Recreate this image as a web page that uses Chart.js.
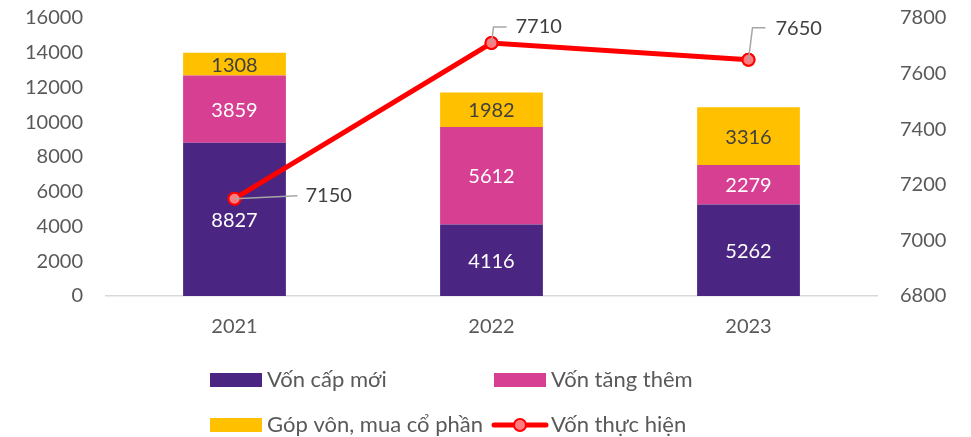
<!DOCTYPE html>
<html>
<head>
<meta charset="utf-8">
<script src="https://cdn.jsdelivr.net/npm/chart.js@4.4.1/dist/chart.umd.min.js"></script>
<style>
  html, body { margin: 0; padding: 0; background: #fff; }
  #wrap { width: 971px; height: 437px; }
</style>
</head>
<body>
<div id="wrap"><canvas id="fdi" width="971" height="437"></canvas></div>
<script>
let years = ['2021', '2022', '2023'];
let vonCapMoi = [8827, 4116, 5262];
let vonTangThem = [3859, 5612, 2279];
let gopVon = [1308, 1982, 3316];
let vonThucHien = [7150, 7710, 7650];
let legendNames = ['Vốn cấp mới', 'Vốn tăng thêm', 'Góp vôn, mua cổ phần', 'Vốn thực hiện'];

const FONT = 'Lato, "Open Sans", sans-serif';

// labels inside bar segments
const barLabels = {
    id: 'barLabels',
    afterDatasetsDraw(chart) {
        const ctx = chart.ctx;
        ctx.save();
        ctx.font = '20px ' + FONT;
        ctx.textAlign = 'center';
        ctx.textBaseline = 'middle';
        chart.data.datasets.forEach((ds, i) => {
            if (ds.type !== 'bar') return;
            chart.getDatasetMeta(i).data.forEach((bar, j) => {
                const mid = (bar.y + bar.base) / 2;
                ctx.fillStyle = ds.labelColor;
                ctx.fillText(ds.data[j], bar.x, mid + 1);
            });
        });
        ctx.restore();
    }
};

// labels of the line with small leader lines
const lineLabels = {
    id: 'lineLabels',
    afterDraw(chart) {
        const ctx = chart.ctx;
        const idx = chart.data.datasets.findIndex(d => d.type === 'line');
        const ds = chart.data.datasets[idx];
        const offs = [
            { ex: 0, ey: 0, lx: 63, ly: -3, tx: 71, ty: -3 },
            { ex: 2, ey: -16, lx: 15, ly: -16, tx: 24, ty: -16 },
            { ex: 4, ey: -32, lx: 17, ly: -32, tx: 27, ty: -31 }
        ];
        const leader = (pt, o) => {
            ctx.strokeStyle = '#A6A6A6';
            ctx.lineWidth = 1.5;
            ctx.beginPath();
            ctx.moveTo(pt.x, pt.y);
            if (o.ex || o.ey) ctx.lineTo(pt.x + o.ex, pt.y + o.ey);
            ctx.lineTo(pt.x + o.lx, pt.y + o.ly);
            ctx.stroke();
        };
        ctx.save();
        chart.getDatasetMeta(idx).data.forEach((pt, j) => {
            const o = offs[j];
            // point on top, leader drawn over it like in excel
            ctx.beginPath();
            ctx.arc(pt.x, pt.y, 6, 0, Math.PI * 2);
            ctx.fillStyle = '#FF7C80';
            ctx.fill();
            ctx.lineWidth = 2;
            ctx.strokeStyle = '#FF0000';
            ctx.stroke();
            leader(pt, o);
            ctx.font = '20px ' + FONT;
            ctx.fillStyle = '#404040';
            ctx.textAlign = 'left';
            ctx.textBaseline = 'middle';
            ctx.fillText(ds.data[j], pt.x + o.tx, pt.y + o.ty);
        });
        ctx.restore();
    }
};

// legend in two columns under the chart
const gridLegend = {
    id: 'gridLegend',
    afterDraw(chart) {
        const ctx = chart.ctx;
        const cols = [210, 494];
        const rows = [380, 425];
        const order = [1, 2, 3, 0];
        ctx.save();
        ctx.font = '22px ' + FONT;
        ctx.textBaseline = 'middle';
        ctx.textAlign = 'left';
        order.forEach((di, k) => {
            const ds = chart.data.datasets[di];
            const x = cols[k % 2], y = rows[Math.floor(k / 2)];
            if (ds.type === 'line') {
                ctx.strokeStyle = '#FF0000';
                ctx.lineWidth = 5;
                ctx.lineCap = 'round';
                ctx.beginPath();
                ctx.moveTo(x, y);
                ctx.lineTo(x + 52, y);
                ctx.stroke();
                ctx.beginPath();
                ctx.arc(x + 26, y, 6, 0, Math.PI * 2);
                ctx.fillStyle = '#FF7C80';
                ctx.fill();
                ctx.lineWidth = 2;
                ctx.stroke();
            } else {
                ctx.fillStyle = ds.backgroundColor;
                ctx.fillRect(x, y - 7, 52, 14);
            }
            ctx.fillStyle = '#595959';
            ctx.fillText(ds.label, x + 57, y);
        });
        ctx.restore();
    }
};

const plain = v => String(v);
const fitY = w => s => { s.width = w; s.paddingTop = 0; s.paddingBottom = 0; };

new Chart(document.getElementById('fdi'), {
    data: {
        labels: years,
        datasets: [
            {
                type: 'line',
                label: legendNames[3],
                data: vonThucHien,
                yAxisID: 'y2',
                borderColor: '#FF0000',
                borderWidth: 5,
                pointRadius: 6,
                pointBackgroundColor: '#FF7C80',
                pointBorderColor: '#FF0000',
                pointBorderWidth: 2,
                tension: 0,
                order: 0
            },
            {
                type: 'bar',
                label: legendNames[0],
                data: vonCapMoi,
                backgroundColor: '#4A2682',
                labelColor: '#FFFFFF',
                stack: 's',
                order: 1
            },
            {
                type: 'bar',
                label: legendNames[1],
                data: vonTangThem,
                backgroundColor: '#D63F92',
                labelColor: '#FFFFFF',
                stack: 's',
                order: 1
            },
            {
                type: 'bar',
                label: legendNames[2],
                data: gopVon,
                backgroundColor: '#FFC000',
                labelColor: '#404040',
                stack: 's',
                order: 1
            }
        ]
    },
    options: {
        responsive: false,
        animation: false,
        layout: { padding: { top: 18, left: 0, right: 0, bottom: 0 } },
        datasets: { bar: { barPercentage: 0.4, categoryPercentage: 1 } },
        plugins: {
            legend: { display: false },
            tooltip: { enabled: false }
        },
        scales: {
            x: {
                stacked: true,
                grid: { display: false, drawTicks: false },
                border: { display: true, color: '#D9D9D9', width: 1.5 },
                ticks: { color: '#595959', font: { size: 20, family: FONT }, padding: 19 },
                afterFit(s) { s.height = 141; s.paddingLeft = 0; s.paddingRight = 0; }
            },
            y: {
                stacked: true,
                position: 'left',
                min: 0,
                max: 16000,
                ticks: { stepSize: 2000, callback: plain, color: '#595959', font: { size: 20, family: FONT }, padding: 23 },
                grid: { display: false, drawTicks: false },
                border: { display: false },
                afterFit: fitY(106)
            },
            y2: {
                position: 'right',
                min: 6800,
                max: 7800,
                ticks: { stepSize: 200, callback: plain, color: '#595959', font: { size: 20, family: FONT }, padding: 23 },
                grid: { display: false, drawTicks: false },
                border: { display: false },
                afterFit: fitY(94)
            }
        }
    },
    plugins: [barLabels, lineLabels, gridLegend]
});
</script>
</body>
</html>
